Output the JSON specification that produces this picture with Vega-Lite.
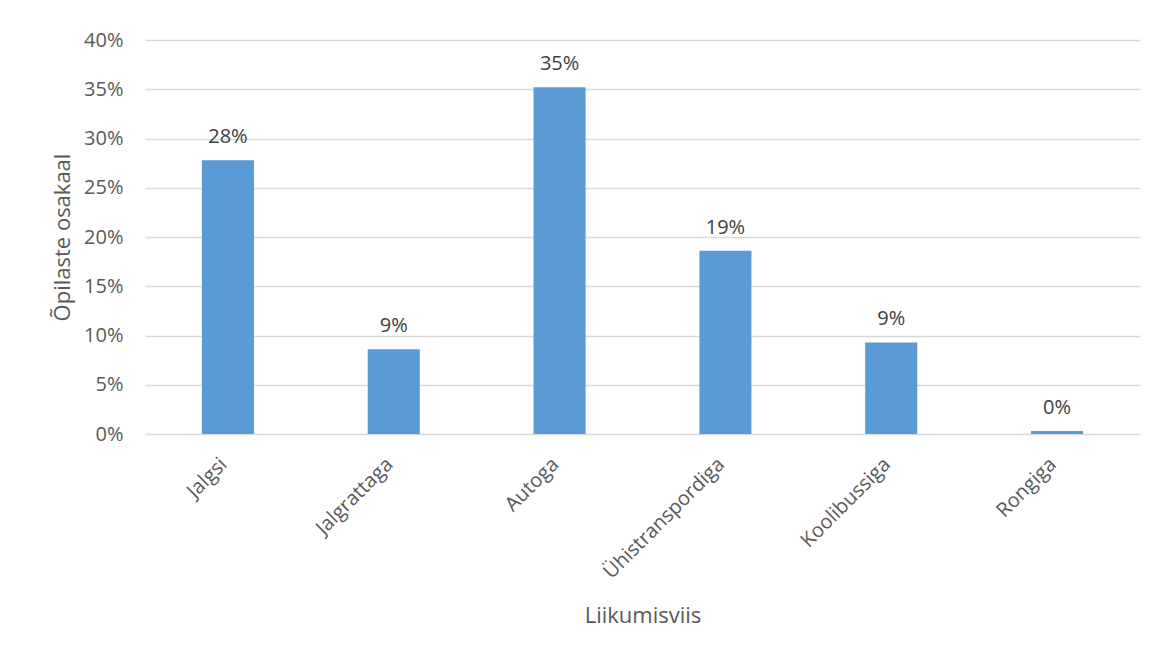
{
  "$schema": "https://vega.github.io/schema/vega-lite/v6.json",
  "width": 995,
  "height": 394,
  "autosize": {"type": "none"},
  "padding": {"left": 145, "top": 40, "right": 20, "bottom": 221},
  "background": "white",
  "config": {
    "view": {"stroke": null},
    "font": "Open Sans"
  },
  "data": {
    "values": [
      {"viis": "Jalgsi", "osakaal": 0.278},
      {"viis": "Jalgrattaga", "osakaal": 0.086},
      {"viis": "Autoga", "osakaal": 0.352},
      {"viis": "Ühistranspordiga", "osakaal": 0.186},
      {"viis": "Koolibussiga", "osakaal": 0.093},
      {"viis": "Rongiga", "osakaal": 0.003}
    ]
  },
  "encoding": {
    "x": {
      "field": "viis",
      "type": "nominal",
      "sort": null,
      "scale": {"paddingInner": 0.686, "paddingOuter": 0.343},
      "axis": {
        "title": "Liikumisviis",
        "titleFont": "Open Sans",
        "titleFontSize": 22,
        "titleFontWeight": "normal",
        "titleColor": "#595959",
        "titleY": 181,
        "titleBaseline": "middle",
        "labelAngle": -45,
        "labelAlign": "right",
        "labelBaseline": "middle",
        "labelFontSize": 20,
        "labelColor": "#595959",
        "labelPadding": 27,
        "labelOffset": -4,
        "ticks": false,
        "domain": false
      }
    },
    "y": {
      "field": "osakaal",
      "type": "quantitative",
      "scale": {"domain": [0, 0.4]},
      "axis": {
        "title": "Õpilaste osakaal",
        "titleFont": "Open Sans",
        "titleFontSize": 22,
        "titleFontWeight": "normal",
        "titleColor": "#595959",
        "titleX": -83,
        "titleBaseline": "middle",
        "format": ".0%",
        "values": [0, 0.05, 0.1, 0.15, 0.2, 0.25, 0.3, 0.35, 0.4],
        "labelFontSize": 20,
        "labelColor": "#595959",
        "labelPadding": 22,
        "ticks": false,
        "domain": false,
        "gridColor": "#D9D9D9",
        "gridWidth": 1.5
      }
    }
  },
  "layer": [
    {"mark": {"type": "bar", "color": "#5B9BD5"}},
    {
      "mark": {"type": "text", "baseline": "alphabetic", "dy": -17, "fontSize": 20, "color": "#404040"},
      "encoding": {"text": {"field": "osakaal", "type": "quantitative", "format": ".0%"}}
    }
  ]
}
